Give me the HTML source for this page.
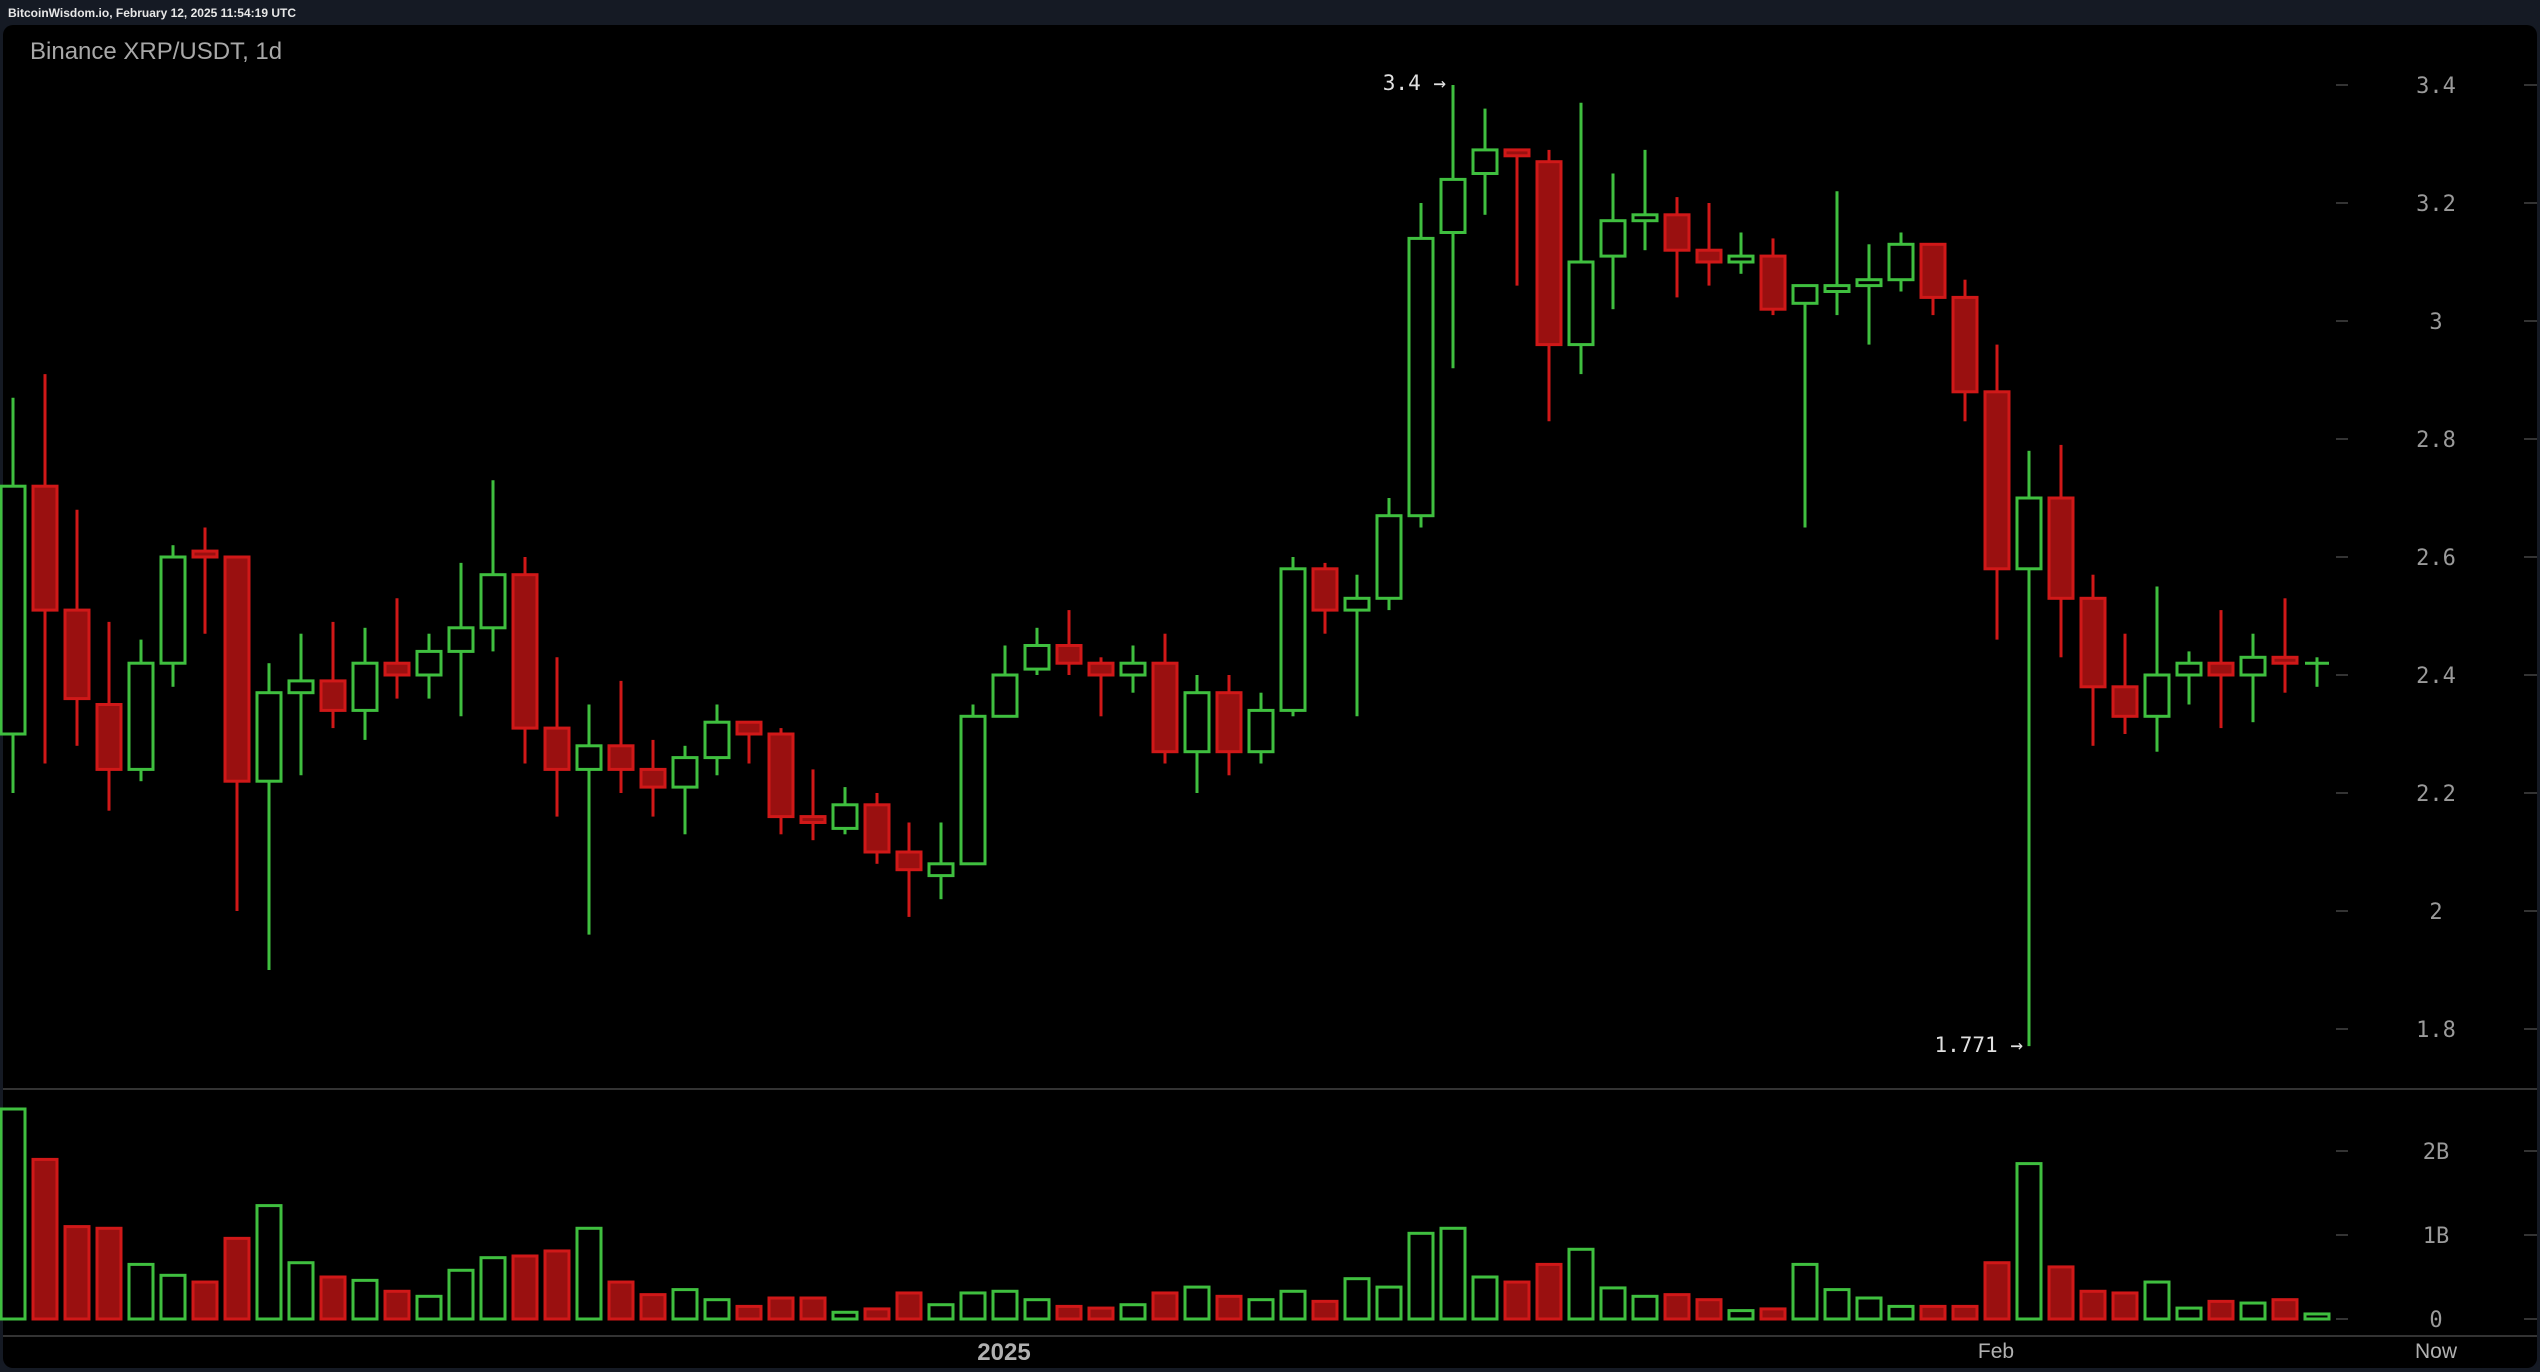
<!DOCTYPE html>
<html><head><meta charset="utf-8"><style>
html,body{margin:0;padding:0;background:#151a24;width:2540px;height:1372px;overflow:hidden}
</style></head><body>
<svg id="s" width="2540" height="1372" xmlns="http://www.w3.org/2000/svg" style="position:absolute;left:0;top:0">
<rect x="0" y="0" width="2540" height="1372" fill="#151a24"/>
<text x="8" y="17" fill="#e8e8e8" font-family="Liberation Sans, sans-serif" font-size="12" font-weight="bold">BitcoinWisdom.io, February 12, 2025 11:54:19 UTC</text>
<rect x="3" y="25" width="2534" height="1343" rx="10" fill="#000"/>
<text x="30" y="59" fill="#a8a8a8" font-family="Liberation Sans, sans-serif" font-size="24">Binance XRP/USDT, 1d</text>
<line x1="3" y1="1089" x2="2537" y2="1089" stroke="#444" stroke-width="1.5"/>
<line x1="3" y1="1336" x2="2537" y2="1336" stroke="#444" stroke-width="1.5"/>
<g id="g"></g>
</svg>
<script>
var d=[[2.30,2.72,2.87,2.20],[2.72,2.51,2.91,2.25],[2.51,2.36,2.68,2.28],[2.35,2.24,2.49,2.17],[2.24,2.42,2.46,2.22],[2.42,2.60,2.62,2.38],[2.61,2.60,2.65,2.47],[2.60,2.22,2.60,2.00],[2.22,2.37,2.42,1.90],[2.37,2.39,2.47,2.23],[2.39,2.34,2.49,2.31],[2.34,2.42,2.48,2.29],[2.42,2.40,2.53,2.36],[2.40,2.44,2.47,2.36],[2.44,2.48,2.59,2.33],[2.48,2.57,2.73,2.44],[2.57,2.31,2.60,2.25],[2.31,2.24,2.43,2.16],[2.24,2.28,2.35,1.96],[2.28,2.24,2.39,2.20],[2.24,2.21,2.29,2.16],[2.21,2.26,2.28,2.13],[2.26,2.32,2.35,2.23],[2.32,2.30,2.32,2.25],[2.30,2.16,2.31,2.13],[2.16,2.15,2.24,2.12],[2.14,2.18,2.21,2.13],[2.18,2.10,2.20,2.08],[2.10,2.07,2.15,1.99],[2.06,2.08,2.15,2.02],[2.08,2.33,2.35,2.08],[2.33,2.40,2.45,2.33],[2.41,2.45,2.48,2.40],[2.45,2.42,2.51,2.40],[2.42,2.40,2.43,2.33],[2.40,2.42,2.45,2.37],[2.42,2.27,2.47,2.25],[2.27,2.37,2.40,2.20],[2.37,2.27,2.40,2.23],[2.27,2.34,2.37,2.25],[2.34,2.58,2.60,2.33],[2.58,2.51,2.59,2.47],[2.51,2.53,2.57,2.33],[2.53,2.67,2.70,2.51],[2.67,3.14,3.20,2.65],[3.15,3.24,3.40,2.92],[3.25,3.29,3.36,3.18],[3.29,3.28,3.29,3.06],[3.27,2.96,3.29,2.83],[2.96,3.10,3.37,2.91],[3.11,3.17,3.25,3.02],[3.17,3.18,3.29,3.12],[3.18,3.12,3.21,3.04],[3.12,3.10,3.20,3.06],[3.10,3.11,3.15,3.08],[3.11,3.02,3.14,3.01],[3.03,3.06,3.06,2.65],[3.05,3.06,3.22,3.01],[3.06,3.07,3.13,2.96],[3.07,3.13,3.15,3.05],[3.13,3.04,3.13,3.01],[3.04,2.88,3.07,2.83],[2.88,2.58,2.96,2.46],[2.58,2.70,2.78,1.771],[2.70,2.53,2.79,2.43],[2.53,2.38,2.57,2.28],[2.38,2.33,2.47,2.30],[2.33,2.40,2.55,2.27],[2.40,2.42,2.44,2.35],[2.42,2.40,2.51,2.31],[2.40,2.43,2.47,2.32],[2.43,2.42,2.53,2.37],[2.42,2.42,2.43,2.38]];
var v=[2.5,1.9,1.1,1.08,.65,.52,.44,.96,1.35,.67,.5,.46,.33,.27,.58,.73,.75,.81,1.08,.44,.29,.35,.23,.15,.25,.25,.08,.12,.31,.17,.31,.33,.23,.15,.13,.17,.31,.38,.27,.23,.33,.21,.48,.38,1.02,1.08,.5,.44,.65,.83,.37,.27,.29,.23,.1,.12,.65,.35,.25,.15,.15,.15,.67,1.85,.62,.33,.31,.44,.13,.21,.19,.23,.06];
function Y(p){return 85+(3.4-p)/0.2*118}
function V(b){return 1319-b*84}
var h='',G='#3fbf3f',R='#d01818',F='#9a1010';
for(var i=0;i<d.length;i++){var x=13+i*32,o=d[i][0],c=d[i][1],up=c>=o;
 if(i==63||i==72)up=true; var col=up?G:R;
 var t=Y(Math.max(o,c)),b=Y(Math.min(o,c));
 h+='<line x1="'+x+'" y1="'+Y(d[i][2])+'" x2="'+x+'" y2="'+t+'" stroke="'+col+'" stroke-width="3"/>';
 h+='<line x1="'+x+'" y1="'+b+'" x2="'+x+'" y2="'+Y(d[i][3])+'" stroke="'+col+'" stroke-width="3"/>';
 if(b-t<3){h+='<line x1="'+(x-12)+'" y1="'+t+'" x2="'+(x+12)+'" y2="'+t+'" stroke="'+col+'" stroke-width="3"/>';}
 else h+='<rect x="'+(x-12)+'" y="'+t+'" width="24" height="'+(b-t)+'" fill="'+(up?'none':F)+'" stroke="'+col+'" stroke-width="3"/>';
 var vt=V(v[i]);
 h+='<rect x="'+(x-12)+'" y="'+vt+'" width="24" height="'+(1319-vt)+'" fill="'+(up?'none':F)+'" stroke="'+col+'" stroke-width="3"/>';
}
var ff='font-family="DejaVu Sans Mono, Liberation Mono, monospace" font-size="22" fill="#9a9a9a" text-anchor="middle"';
[3.4,3.2,3,2.8,2.6,2.4,2.2,2,1.8].forEach(function(p){var y=Y(p);
 h+='<line x1="2336" y1="'+y+'" x2="2348" y2="'+y+'" stroke="#444" stroke-width="1.5"/><line x1="2524" y1="'+y+'" x2="2537" y2="'+y+'" stroke="#444" stroke-width="1.5"/>';
 h+='<text x="2436" y="'+(y+8)+'" '+ff+'>'+p+'</text>';});
[[2,'2B'],[1,'1B'],[0,'0']].forEach(function(a){var y=V(a[0]);
 h+='<line x1="2336" y1="'+y+'" x2="2348" y2="'+y+'" stroke="#444" stroke-width="1.5"/><line x1="2524" y1="'+y+'" x2="2537" y2="'+y+'" stroke="#444" stroke-width="1.5"/>';
 h+='<text x="2436" y="'+(y+8)+'" '+ff+'>'+a[1]+'</text>';});
h+='<text x="1446" y="90" font-family="DejaVu Sans Mono, monospace" font-size="21" fill="#e0e0e0" text-anchor="end">3.4 →</text>';
h+='<text x="2023" y="1052" font-family="DejaVu Sans Mono, monospace" font-size="21" fill="#e0e0e0" text-anchor="end">1.771 →</text>';
h+='<text x="1004" y="1360" font-family="Liberation Sans, sans-serif" font-size="24" font-weight="bold" fill="#b0b0b0" text-anchor="middle">2025</text>';
h+='<text x="1996" y="1358" font-family="Liberation Sans, sans-serif" font-size="21" fill="#b0b0b0" text-anchor="middle">Feb</text>';
h+='<text x="2436" y="1358" font-family="Liberation Sans, sans-serif" font-size="21" fill="#b0b0b0" text-anchor="middle">Now</text>';
document.getElementById('g').innerHTML=h;
</script>
</body></html>
